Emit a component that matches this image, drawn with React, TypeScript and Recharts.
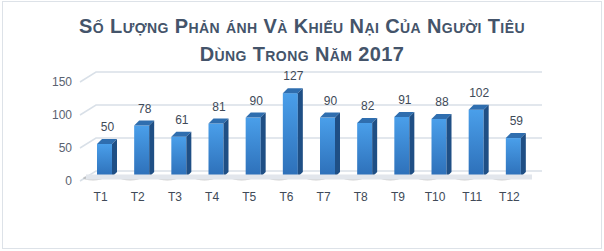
import { BarChart, Bar, XAxis, YAxis, CartesianGrid, LabelList, ReferenceLine } from 'recharts';

const months = ['T1', 'T2', 'T3', 'T4', 'T5', 'T6', 'T7', 'T8', 'T9', 'T10', 'T11', 'T12'];
const complaints = [50, 78, 61, 81, 90, 127, 90, 82, 91, 88, 102, 59];
const yTicks = [0, 50, 100, 150];

const titleLines = ['Số Lượng Phản ánh Và Khiếu Nại Của Người Tiêu', 'Dùng Trong Năm 2017'];

const data = months.map((m, i) => ({ month: m, value: complaints[i] }));

const DEPTH = 5;

// thanh 3D giả: mặt trước + mặt trên + mặt bên
function Bar3D(props: any) {
  const { x, y, width, height } = props;
  if (height == null || height <= 0) return null;
  const d = DEPTH;
  return (
    <g>
      <ellipse cx={x - 4} cy={y + height + 1} rx={10} ry={2.5} fill="#9a9a9a" opacity={0.45} />
      <rect x={x} y={y} width={width} height={height} fill="url(#barFront)" />
      <polygon
        points={`${x},${y} ${x + d},${y - d} ${x + width + d},${y - d} ${x + width},${y}`}
        fill="#2f6eaf"
      />
      <polygon
        points={`${x + width},${y} ${x + width + d},${y - d} ${x + width + d},${y + height - d} ${x + width},${y + height}`}
        fill="#1f4f85"
      />
    </g>
  );
}

function BackGridLine(props: any) {
  const { x1, x2, y1 } = props;
  return (
    <path
      key={`g-${y1}`}
      d={`M ${x1 - 6} ${y1 + 4} L ${x1 + 10} ${y1 - 6} L ${x2 + 10} ${y1 - 6}`}
      fill="none"
      stroke="#d9e0e8"
      strokeWidth={1.5}
    />
  );
}

export default function App() {
  return (
    <div style={{ position: 'fixed', left: 0, top: 0, width: 604, height: 251, background: '#fff' }}>
      <div
        style={{
          position: 'absolute',
          left: 2,
          top: 1,
          width: 598,
          height: 246,
          border: '1px solid #dde2e8',
        }}
      />
      <div
        style={{
          position: 'absolute',
          left: 0,
          top: 12,
          width: 604,
          textAlign: 'center',
          fontFamily: '"Liberation Sans", Arial, sans-serif',
          fontWeight: 'bold',
          fontVariant: 'small-caps',
          fontSize: 20,
          letterSpacing: 0.4,
          lineHeight: '28px',
          color: '#44546a',
        }}
      >
        {titleLines.map((t) => (
          <div key={t}>{t}</div>
        ))}
      </div>
      <BarChart
        width={604}
        height={251}
        data={data}
        margin={{ top: 78, right: 72, bottom: 44, left: 0 }}
        barCategoryGap="30%"
        style={{ position: 'absolute', left: 0, top: 0 }}
      >
        <defs>
          <linearGradient id="barFront" x1="0" y1="0" x2="0" y2="1">
            <stop offset="0%" stopColor="#4a9fea" />
            <stop offset="100%" stopColor="#2d6fb8" />
          </linearGradient>
        </defs>
        <CartesianGrid vertical={false} horizontal={BackGridLine} />
        <ReferenceLine y={0} stroke="#e2e6ec" strokeWidth={5} />
        <XAxis
          dataKey="month"
          axisLine={false}
          tickLine={false}
          tickMargin={9}
          tick={{ fontSize: 12, fill: '#404a58', fontFamily: '"Liberation Sans", Arial, sans-serif', dx: -4 }}
        />
        <YAxis
          width={86}
          domain={[0, 150]}
          ticks={yTicks}
          axisLine={false}
          tickLine={false}
          tickMargin={8}
          tick={{ fontSize: 12, fill: '#5a6270', fontFamily: '"Liberation Sans", Arial, sans-serif', dy: 4 }}
        />
        <Bar dataKey="value" barSize={15} shape={Bar3D} isAnimationActive={false}>
          <LabelList
            dataKey="value"
            position="top"
            offset={13}
            dx={3}
            style={{ fontSize: 12, fill: '#404a58', fontFamily: '"Liberation Sans", Arial, sans-serif' }}
          />
        </Bar>
      </BarChart>
    </div>
  );
}
